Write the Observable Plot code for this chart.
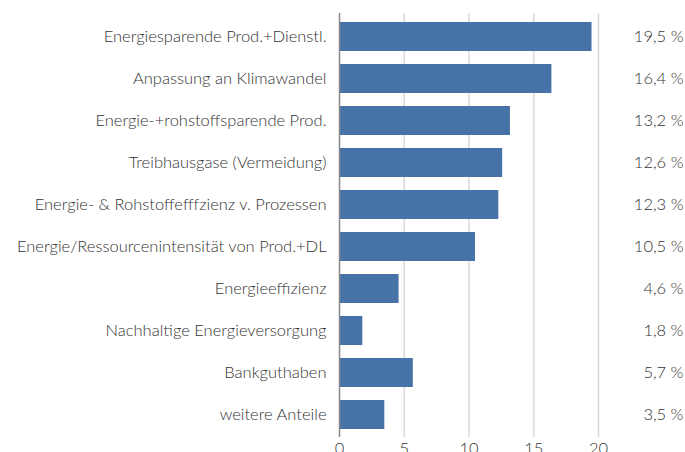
<!DOCTYPE html>
<html>
<head>
<meta charset="utf-8">
<script src="https://cdn.jsdelivr.net/npm/d3@7"></script>
<script src="https://cdn.jsdelivr.net/npm/@observablehq/plot@0.6"></script>
<style>
  html, body { margin: 0; padding: 0; background: #fff; }
  #chart svg { display: block; }
</style>
</head>
<body>
<div id="chart"></div>
<script>
const categories = [
  "Energiesparende Prod.+Dienstl.",
  "Anpassung an Klimawandel",
  "Energie-+rohstoffsparende Prod.",
  "Treibhausgase (Vermeidung)",
  "Energie- & Rohstoffefffzienz v. Prozessen",
  "Energie/Ressourcenintensität von Prod.+DL",
  "Energieeffizienz",
  "Nachhaltige Energieversorgung",
  "Bankguthaben",
  "weitere Anteile"
];
const values = [19.5, 16.4, 13.2, 12.6, 12.3, 10.5, 4.6, 1.8, 5.7, 3.5];
const xTicks = [0, 5, 10, 15, 20];
const gridTicks = [5, 10, 15, 20];

const data = categories.map((c, i) => ({category: c, value: values[i]}));
const fmt = v => v.toFixed(1).replace(".", ",") + " %";

const chart = Plot.plot({
  width: 685,
  height: 452,
  marginLeft: 339,
  marginRight: 87,
  marginTop: 13,
  marginBottom: 15,
  style: {fontFamily: "Lato, sans-serif", fontSize: "16.5px", fontWeight: 300, color: "#333", background: "#fff"},
  x: {domain: [0, 20], ticks: xTicks, tickSize: 0, tickPadding: 5, label: null},
  y: {domain: categories, paddingInner: 0.32, paddingOuter: 0.16, tickSize: 0, tickPadding: 13, label: null},
  marks: [
    Plot.ruleX(gridTicks, {stroke: "#d9d9d9", strokeWidth: 1.5, strokeOpacity: 1}),
    Plot.barX(data, {x: "value", y: "category", fill: "#4672a8"}),
    Plot.ruleX([0], {stroke: "#888", strokeWidth: 1.5}),
    Plot.text(data, {y: "category", text: d => fmt(d.value), frameAnchor: "right", textAnchor: "end", dx: 85, fill: "#333", fontSize: 16.5, fontWeight: 300})
  ]
});
document.getElementById("chart").append(chart);
</script>
</body>
</html>
